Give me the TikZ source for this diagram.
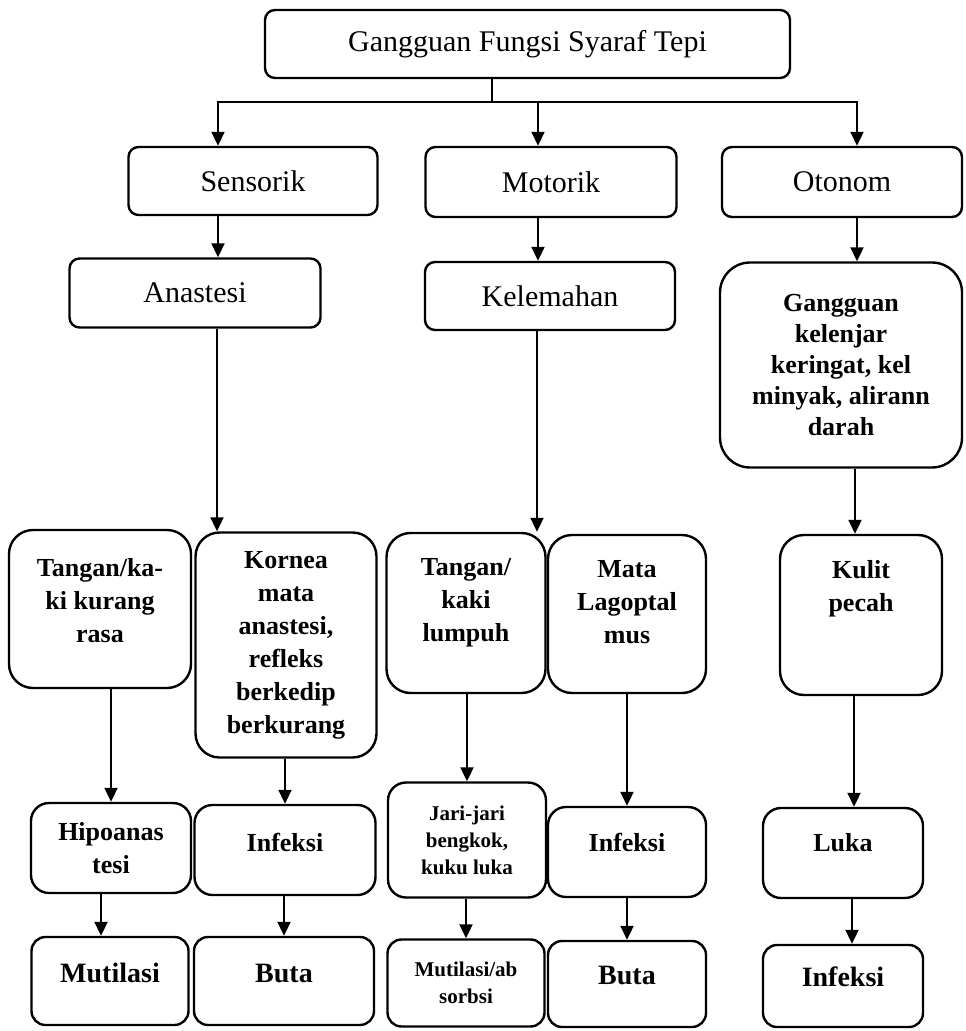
\documentclass[tikz,border=0pt]{standalone}
\usepackage{fontspec}
\setmainfont{Liberation Serif}
\usetikzlibrary{arrows.meta}
\newcommand{\padlow}[1]{\rule[-#1]{0pt}{#1}}

\begin{document}
\begin{tikzpicture}[x=0.5pt,y=-0.5pt,>={Triangle[length=7pt,width=6.5pt]},line width=1pt]
  \tikzstyle{box}=[draw,line width=1.2pt,rounded corners=5pt,align=center,inner sep=2pt]
  \tikzstyle{head}=[box,font=\fontsize{15}{18}\selectfont]
  \tikzstyle{tall}=[box,rounded corners=12pt,font=\bfseries\fontsize{13}{16.5}\selectfont]
  \tikzstyle{mid}=[box,rounded corners=9pt,font=\bfseries\fontsize{13}{16.5}\selectfont]
  \tikzstyle{low}=[box,rounded corners=7pt,font=\bfseries\fontsize{14}{17}\selectfont]
  \tikzstyle{smalltxt}=[font=\bfseries\fontsize{10.5}{13.5}\selectfont]
  \useasboundingbox (0,0) rectangle (965,1031);

  % top and first level
  \node[head,minimum width=262.5pt,minimum height=34pt] (tepi) at (527.5,44) {Gangguan Fungsi Syaraf Tepi};
  \node[head,minimum width=124.5pt,minimum height=34pt] (sensorik) at (253,181) {Sensorik};
  \node[head,minimum width=125.5pt,minimum height=35pt] (motorik) at (551,182) {Motorik};
  \node[head,minimum width=120pt,minimum height=35pt] (otonom) at (842,182) {Otonom};
  \coordinate (hub) at (492,102);

  % second level
  \node[head,minimum width=125.5pt,minimum height=34.5pt] (anastesi) at (195,293) {Anastesi};
  \node[head,minimum width=125pt,minimum height=34pt] (kelemahan) at (550,296) {Kelemahan};
  \node[tall,rounded corners=15pt,font=\bfseries\fontsize{13}{15.5}\selectfont,minimum width=121pt,minimum height=102.5pt] (kelenjar) at (841,365) {Gangguan\\kelenjar\\keringat, kel\\minyak, alirann\\darah};

  % third level
  \node[tall,minimum width=91pt,minimum height=79pt] (tkurang) at (100,609) {Tangan/ka-\\ki kurang\\rasa\padlow{9pt}};
  \node[tall,minimum width=90.5pt,minimum height=112.5pt] (kornea) at (286,645) {Kornea\\mata\\anastesi,\\refleks\\berkedip\\berkurang};
  \node[tall,minimum width=79.5pt,minimum height=80pt] (tlumpuh) at (466,613) {Tangan/\\kaki\\lumpuh\padlow{13pt}};
  \node[tall,minimum width=79pt,minimum height=79pt] (mata) at (627,614) {Mata\\Lagoptal\\mus\padlow{12pt}};
  \node[tall,minimum width=81pt,minimum height=80pt] (kulit) at (861,615) {Kulit\\pecah\padlow{29pt}};

  % fourth level
  \node[mid,minimum width=80pt,minimum height=45pt] (hipo) at (111,848) {Hipoanas\\tesi};
  \node[mid,minimum width=90.5pt,minimum height=45pt] (infs) at (285,850) {Infeksi\padlow{8pt}};
  \node[mid,smalltxt,minimum width=79pt,minimum height=57.5pt] (jari) at (467,840) {Jari-jari\\bengkok,\\kuku luka};
  \node[mid,minimum width=79pt,minimum height=45pt] (infm) at (627,852) {Infeksi\padlow{10pt}};
  \node[mid,minimum width=80pt,minimum height=45pt] (luka) at (843,853) {Luka\padlow{11pt}};

  % last level
  \node[low,minimum width=78.5pt,minimum height=44pt] (mut) at (110,981) {Mutilasi\padlow{8pt}};
  \node[low,minimum width=90pt,minimum height=44pt] (buta) at (284,981) {Buta\padlow{8pt}};
  \node[low,smalltxt,minimum width=78.5pt,minimum height=43.5pt] (mutab) at (466,983) {Mutilasi/ab\\sorbsi};
  \node[low,minimum width=79pt,minimum height=43pt] (buta2) at (627,984) {Buta\padlow{9pt}};
  \node[low,minimum width=80pt,minimum height=41pt] (infk) at (843,986) {Infeksi\padlow{9pt}};

  % connectors
  \draw (tepi.south -| hub) -- (hub);
  \draw[->] (hub) -| ([xshift=-17.5pt]sensorik.north);
  \draw[->] (hub) -| ([xshift=-6.5pt]motorik.north);
  \draw[->] (hub) -| ([xshift=7.5pt]otonom.north);
  \draw[->] ([xshift=-17.5pt]sensorik.south) -- ([xshift=-17.5pt]sensorik.south |- anastesi.north);
  \draw[->] ([xshift=-6.5pt]motorik.south) -- ([xshift=-6.5pt]motorik.south |- kelemahan.north);
  \draw[->] ([xshift=7.5pt]otonom.south) -- ([xshift=7.5pt]otonom.south |- kelenjar.north);
  \draw[->] ([xshift=11pt]anastesi.south) -- ([xshift=11pt]anastesi.south |- kornea.north);
  \draw[->] ([xshift=-6.5pt]kelemahan.south) -- ([xshift=-6.5pt]kelemahan.south |- tlumpuh.north);
  \draw[->] ([xshift=7pt]kelenjar.south) -- ([xshift=7pt]kelenjar.south |- kulit.north);
  \draw[->] (hipo.north |- tkurang.south) -- (hipo.north);
  \draw[->] (infs.north |- kornea.south) -- (infs.north);
  \draw[->] (jari.north |- tlumpuh.south) -- (jari.north);
  \draw[->] (infm.north |- mata.south) -- (infm.north);
  \draw[->] ([xshift=-3.5pt]kulit.south) -- ([xshift=-3.5pt]kulit.south |- luka.north);
  \draw[->] ([xshift=-5pt]hipo.south) -- ([xshift=-5pt]hipo.south |- mut.north);
  \draw[->] (buta.north |- infs.south) -- (buta.north);
  \draw[->] (mutab.north |- jari.south) -- (mutab.north);
  \draw[->] (buta2.north |- infm.south) -- (buta2.north);
  \draw[->] ([xshift=4.5pt]luka.south) -- ([xshift=4.5pt]luka.south |- infk.north);
\end{tikzpicture}
\end{document}
